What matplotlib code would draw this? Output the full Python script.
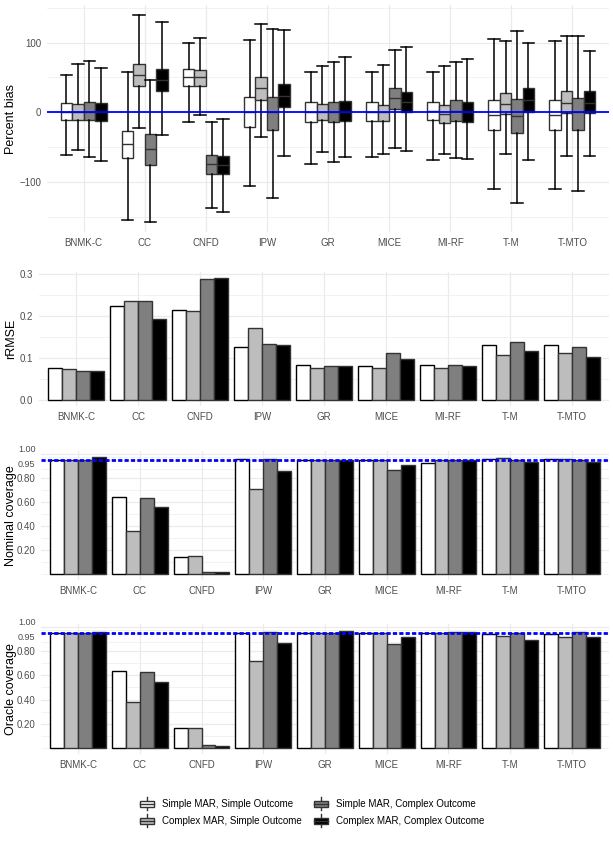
import matplotlib
matplotlib.use("Agg")
import matplotlib.pyplot as plt
from matplotlib.legend_handler import HandlerBase
from matplotlib.patches import Rectangle, Patch
from matplotlib.lines import Line2D

plt.rcParams['font.family'] = ['Liberation Sans', 'DejaVu Sans']

methods = ["BNMK-C", "CC", "CNFD", "IPW", "GR", "MICE", "MI-RF", "T-M", "T-MTO"]
conditions = ["Simple MAR, Simple Outcome", "Complex MAR, Simple Outcome",
              "Simple MAR, Complex Outcome", "Complex MAR, Complex Outcome"]
fills = ["#FFFFFF", "#BDBDBD", "#7F7F7F", "#000000"]

# percent bias boxplot stats, one row per condition
bias_lo = [[-61, -155, -14, -106, -74, -65, -68, -110, -110],
           [-54, -23, -4, -35, -57, -60, -60, -60, -63],
           [-64, -157, -138, -123, -72, -52, -66, -131, -113],
           [-70, -33, -143, -63, -64, -55, -67, -69, -63]]
bias_q1 = [[-11, -66, 38, -21, -14, -12, -11, -25, -25],
           [-11, 37, 38, 18, -11, -12, -15, -2, -1],
           [-11, -76, -88, -25, -14, 5, -12, -30, -25],
           [-12, 30, -88, 7, -12, 0, -14, 1, -1]]
bias_med = [[0, -46, 51, 0, 0, 0, 2, -4, -4],
            [0, 54, 50, 35, 0, 0, -3, 12, 13],
            [0, -53, -75, 0, 0, 20, 2, -6, 0],
            [0, 46, -76, 24, 1, 14, 0, 18, 13]]
bias_q3 = [[13, -27, 62, 22, 14, 14, 15, 18, 18],
           [12, 69, 61, 50, 12, 11, 10, 28, 30],
           [14, -31, -62, 22, 15, 35, 17, 19, 21],
           [13, 62, -63, 41, 16, 29, 14, 35, 31]]
bias_hi = [[53, 58, 100, 104, 58, 58, 58, 105, 103],
           [69, 139, 106, 127, 67, 68, 66, 103, 109],
           [74, 47, -14, 120, 72, 89, 72, 116, 109],
           [64, 129, -10, 118, 79, 94, 76, 99, 88]]

rrmse = [[0.076, 0.223, 0.215, 0.127, 0.083, 0.080, 0.082, 0.130, 0.130],
         [0.073, 0.235, 0.212, 0.171, 0.076, 0.075, 0.077, 0.107, 0.111],
         [0.070, 0.235, 0.288, 0.133, 0.080, 0.111, 0.082, 0.137, 0.127],
         [0.070, 0.193, 0.290, 0.130, 0.080, 0.097, 0.080, 0.116, 0.103]]

nominal_cov = [[0.946, 0.639, 0.144, 0.954, 0.946, 0.946, 0.927, 0.954, 0.954],
               [0.946, 0.360, 0.152, 0.708, 0.946, 0.946, 0.946, 0.965, 0.954],
               [0.952, 0.633, 0.017, 0.957, 0.952, 0.863, 0.952, 0.952, 0.952],
               [0.974, 0.559, 0.014, 0.857, 0.952, 0.907, 0.952, 0.929, 0.929]]

oracle_cov = [[0.952, 0.635, 0.165, 0.952, 0.952, 0.952, 0.952, 0.944, 0.944],
              [0.952, 0.380, 0.162, 0.715, 0.952, 0.952, 0.952, 0.924, 0.919],
              [0.952, 0.630, 0.022, 0.960, 0.952, 0.856, 0.957, 0.952, 0.957],
              [0.955, 0.547, 0.017, 0.864, 0.966, 0.916, 0.957, 0.891, 0.916]]

W, H = 613, 844
fig = plt.figure(figsize=(W / 100, H / 100), dpi=100)
fig.patch.set_facecolor("white")

grey_txt = "#4D4D4D"
edge = "#333333"
xs = list(range(1, len(methods) + 1))


def make_axes(l, t, r, b):
    return fig.add_axes([l / W, 1 - b / H, (r - l) / W, (b - t) / H])


def style(ax, ylabel):
    for s in ax.spines.values():
        s.set_visible(False)
    ax.set_xlim(0.4, len(methods) + 0.6)
    ax.set_xticks(xs)
    ax.set_xticklabels(methods)
    ax.tick_params(which="both", length=0, labelsize=7, colors=grey_txt, pad=4)
    ax.grid(True, which="major", color="#EBEBEB", lw=0.9)
    ax.grid(True, which="minor", axis="y", color="#EBEBEB", lw=0.45)
    ax.set_axisbelow(True)
    ax.set_ylabel(ylabel, fontsize=9, color="black")
    ax.yaxis.label.set_va("center")
    l = ax.get_position().x0 * W
    r = ax.get_position().x1 * W
    ax.yaxis.set_label_coords((11.5 - l) / (r - l), 0.5)


# ---- percent bias ----
ax1 = make_axes(47, 5, 609, 232)
box_off = [-0.28125, -0.09375, 0.09375, 0.28125]
bw = 0.1875
for i in range(4):
    stats = []
    for j in range(len(methods)):
        stats.append(dict(whislo=bias_lo[i][j], q1=bias_q1[i][j], med=bias_med[i][j],
                          q3=bias_q3[i][j], whishi=bias_hi[i][j], fliers=[]))
    ax1.bxp(stats, positions=[x + box_off[i] for x in xs], widths=bw,
            capwidths=bw, patch_artist=True, showfliers=False, manage_ticks=False,
            boxprops=dict(facecolor=fills[i], edgecolor=edge, lw=1.0),
            medianprops=dict(color=edge, lw=1.0),
            whiskerprops=dict(color="black", lw=1.1),
            capprops=dict(color="black", lw=1.1))
ax1.axhline(0, color="blue", lw=1.3, zorder=5)
ax1.set_ylim(-172, 154)
ax1.set_yticks([-100, 0, 100])
ax1.set_yticks([-150, -50, 50, 150], minor=True)
style(ax1, "Percent bias")

bar_off = [-0.3375, -0.1125, 0.1125, 0.3375]
barw = 0.225


def bars(ax, vals):
    for i in range(4):
        ax.bar([x + bar_off[i] for x in xs], vals[i], width=barw, color=fills[i],
               edgecolor=edge if i else "black", lw=1.0)


# ---- rRMSE ----
ax2 = make_axes(39, 272, 609, 406)
bars(ax2, rrmse)
ax2.set_ylim(-0.0145, 0.3045)
ax2.set_yticks([0.0, 0.1, 0.2, 0.3])
ax2.set_yticklabels(["0.0", "0.1", "0.2", "0.3"])
ax2.set_yticks([0.05, 0.15, 0.25], minor=True)
style(ax2, "rRMSE")

cov_ticks = [0.2, 0.4, 0.6, 0.8, 0.95, 1.0]
cov_labels = ["0.20", "0.40", "0.60", "0.80", "0.95", "1.00"]
cov_minor = [0.0, 0.1, 0.3, 0.5, 0.7, 0.875, 0.975]


def coverage(ax, vals, label):
    bars(ax, vals)
    ax.axhline(0.95, color="blue", lw=2.0, ls=(0, (1.5, 0.8)), zorder=5)
    ax.set_ylim(-0.049, 1.023)
    ax.set_yticks(cov_ticks)
    ax.set_yticklabels(cov_labels)
    ax.set_yticks(cov_minor, minor=True)
    style(ax, label)
    # 1.00 and 0.95 sit very close; nudge them apart a touch
    lbls = ax.get_yticklabels()
    lbls[4].set_va("top")
    lbls[5].set_va("bottom")
    for t in lbls[4:]:
        t.set_fontsize(6.5)


ax3 = make_axes(41, 451, 609, 580)
coverage(ax3, nominal_cov, "Nominal coverage")
ax4 = make_axes(41, 624, 609, 754)
coverage(ax4, oracle_cov, "Oracle coverage")


# ---- legend with boxplot keys ----
class BoxKey(HandlerBase):
    def create_artists(self, legend, orig_handle, xdescent, ydescent,
                       width, height, fontsize, trans):
        x0, y0 = -xdescent, -ydescent
        fc = orig_handle.get_facecolor()
        cx = x0 + width / 2
        arts = [Line2D([cx, cx], [y0 - 0.15 * height, y0 + 0.2 * height], color=edge, lw=1.0),
                Line2D([cx, cx], [y0 + 0.8 * height, y0 + 1.15 * height], color=edge, lw=1.0),
                Rectangle((x0, y0 + 0.2 * height), width, 0.6 * height,
                          facecolor=fc, edgecolor=edge, lw=1.0),
                Line2D([x0, x0 + width], [y0 + 0.5 * height] * 2,
                       color=edge, lw=1.0)]
        for a in arts:
            a.set_transform(trans)
        return arts


handles = [Patch(facecolor=f) for f in fills]
fig.legend(handles, conditions, loc="center", bbox_to_anchor=(312 / W, 1 - 812.5 / H),
           ncol=2, frameon=False, fontsize=7.0, handler_map={Patch: BoxKey()},
           handlelength=1.5, handleheight=1.2, handletextpad=0.8,
           columnspacing=1.2, labelspacing=0.7)

fig.savefig("out.png", dpi=100, facecolor="white")
